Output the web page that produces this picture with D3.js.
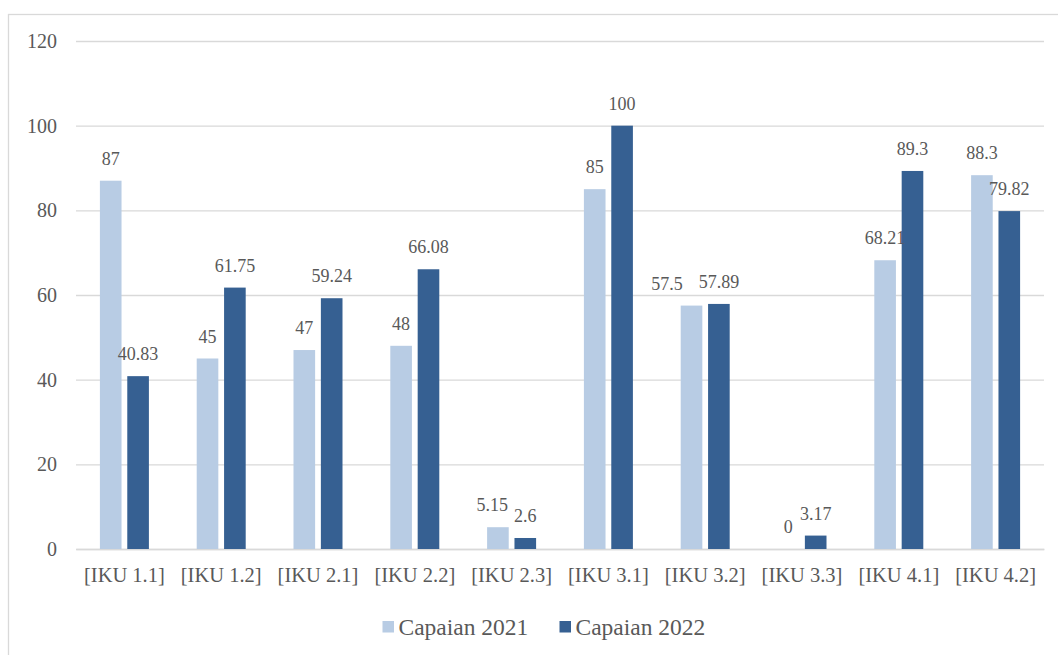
<!DOCTYPE html>
<html>
<head>
<meta charset="utf-8">
<script src="https://cdn.jsdelivr.net/npm/d3@7"></script>
<style>
  html, body { margin: 0; padding: 0; background: #ffffff; }
  svg { display: block; }
</style>
</head>
<body>
<svg id="chart" width="1058" height="655" font-family="Liberation Serif"></svg>
<script>
// Indikator Kinerja Utama (IKU) achievements, 2021 vs 2022
const categories = ["[IKU 1.1]", "[IKU 1.2]", "[IKU 2.1]", "[IKU 2.2]", "[IKU 2.3]",
                    "[IKU 3.1]", "[IKU 3.2]", "[IKU 3.3]", "[IKU 4.1]", "[IKU 4.2]"];
const seriesNames = ["Capaian 2021", "Capaian 2022"];
const capaian2021 = [87, 45, 47, 48, 5.15, 85, 57.5, 0, 68.21, 88.3];
const capaian2022 = [40.83, 61.75, 59.24, 66.08, 2.6, 100, 57.89, 3.17, 89.3, 79.82];
const yTicks = [0, 20, 40, 60, 80, 100, 120];
const seriesColors = ["#b8cce4", "#366092"];

const FONT = "Liberation Serif";
const TEXT_COLOR = "#595959";
const GRID_COLOR = "#d9d9d9";

const seriesValues = [capaian2021, capaian2022];
const rows = categories.map((c, i) => ({
  category: c,
  values: seriesNames.map((s, k) => ({ series: s, k, value: seriesValues[k][i] }))
}));

const svg = d3.select("#chart");
const plot = { left: 76, right: 1044, top: 41, bottom: 549 };

// chart area frame
svg.append("rect")
  .attr("x", 8.5).attr("y", 14.5)
  .attr("width", 1070).attr("height", 660)
  .attr("fill", "none").attr("stroke", GRID_COLOR).attr("stroke-width", 1.3);

const x0 = d3.scaleBand().domain(categories).range([plot.left, plot.right]).padding(0);
const pairWidth = 49;
const x1 = d3.scaleBand().domain(seriesNames)
  .range([x0.bandwidth() / 2 - pairWidth / 2, x0.bandwidth() / 2 + pairWidth / 2])
  .paddingInner(0.21).paddingOuter(0);
const y = d3.scaleLinear().domain([0, 120]).range([plot.bottom, plot.top]);
const color = d3.scaleOrdinal().domain(seriesNames).range(seriesColors);

// gridlines + value axis labels
const yAxis = d3.axisLeft(y).tickValues(yTicks).tickSize(-(plot.right - plot.left)).tickPadding(19);
const gy = svg.append("g").attr("transform", `translate(${plot.left},0)`).call(yAxis);
gy.attr("font-family", FONT).attr("font-size", 20);
gy.select(".domain").remove();
gy.selectAll(".tick line").attr("stroke", GRID_COLOR).attr("stroke-width", 1.3);
gy.selectAll(".tick text")
  .style("font-family", FONT)
  .style("font-size", "20px")
  .attr("fill", TEXT_COLOR)
  .attr("dy", "0.33em");

// category axis
const xAxis = d3.axisBottom(x0).tickSize(0).tickPadding(0);
const gx = svg.append("g").attr("transform", `translate(0,${plot.bottom})`).call(xAxis);
gx.attr("font-family", FONT).attr("font-size", 20.5);
gx.select(".domain").attr("stroke", GRID_COLOR).attr("stroke-width", 1.3);
gx.selectAll(".tick text")
  .style("font-family", FONT)
  .style("font-size", "20.5px")
  .attr("fill", TEXT_COLOR)
  .attr("dy", 0)
  .attr("y", 32.5);

// bars
const groups = svg.append("g").selectAll("g")
  .data(rows).join("g")
  .attr("transform", d => `translate(${x0(d.category)},0)`);

groups.selectAll("rect")
  .data(d => d.values).join("rect")
  .attr("x", d => x1(d.series))
  .attr("width", x1.bandwidth())
  .attr("y", d => y(d.value))
  .attr("height", d => y(0) - y(d.value))
  .attr("fill", d => color(d.series));

// value labels, centred above each bar
groups.selectAll("text.val")
  .data(d => d.values).join("text")
  .attr("class", "val")
  .attr("x", d => x1(d.series) + x1.bandwidth() / 2)
  .attr("y", d => y(d.value) - 16)
  .attr("text-anchor", "middle")
  .style("font-family", FONT)
  .style("font-size", "18px")
  .attr("fill", TEXT_COLOR)
  .text(d => String(d.value));

// keep paired labels from colliding: push the left label leftwards
groups.each(function () {
  const labels = d3.select(this).selectAll("text.val").nodes();
  const [a, b] = labels;
  const ba = a.getBBox(), bb = b.getBBox();
  const vOverlap = Math.min(ba.y + ba.height, bb.y + bb.height) - Math.max(ba.y, bb.y);
  const hOverlap = (ba.x + ba.width) - bb.x;
  if (vOverlap > 4 && hOverlap > -4) {
    const d = d3.select(a).datum();
    const barLeft = x1(d.series);
    let newRight;
    if (vOverlap > ba.height * 0.7) {
      newRight = barLeft + 2;          // labels side by side: sit against the bar's left edge
    } else {
      newRight = bb.x - 6;             // labels staggered: just clear the neighbour
    }
    const shift = Math.min(0, newRight - (ba.x + ba.width));
    d3.select(a).attr("x", +d3.select(a).attr("x") + shift);
  }
});

// legend
const legend = svg.append("g");
const legendItems = [{ name: seriesNames[0], x: 382.5 }, { name: seriesNames[1], x: 559.5 }];
legendItems.forEach(item => {
  legend.append("rect")
    .attr("x", item.x).attr("y", 621)
    .attr("width", 11.5).attr("height", 11.5)
    .attr("fill", color(item.name));
  legend.append("text")
    .attr("x", item.x + 16).attr("y", 635)
    .style("font-family", FONT)
    .style("font-size", "23.5px")
    .attr("fill", TEXT_COLOR)
    .text(item.name);
});
</script>
</body>
</html>
